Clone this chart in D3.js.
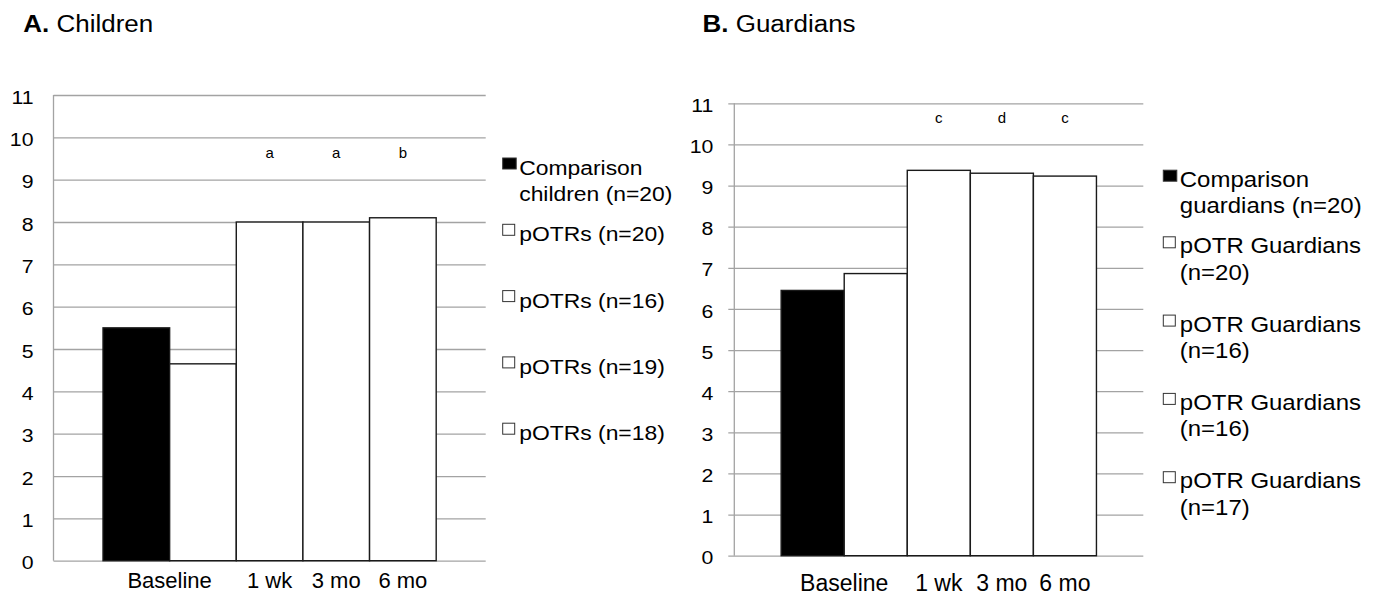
<!DOCTYPE html>
<html>
<head>
<meta charset="utf-8">
<script src="https://cdn.jsdelivr.net/npm/d3@7"></script>
<style>
  html, body { margin: 0; padding: 0; background: #fff; }
  svg { display: block; }
  text { font-family: "Liberation Sans", Arial, Helvetica, sans-serif; fill: #000; }
</style>
</head>
<body>
<svg id="chart" width="1373" height="599"></svg>
<script>
// ---- data ----
var timeLabels = ["Baseline", "1 wk", "3 mo", "6 mo"];
var barGroup = [0, 0, 1, 2, 3];           // which time label each bar sits under
var yTicks = d3.range(0, 12);

var childSeries = ["Comparison\nchildren (n=20)", "pOTRs (n=20)", "pOTRs (n=16)", "pOTRs (n=19)", "pOTRs (n=18)"];
var childValues = [5.5, 4.65, 8.0, 8.0, 8.1];
var childLetters = ["", "", "a", "a", "b"];

var guardSeries = ["Comparison\nguardians (n=20)", "pOTR Guardians\n(n=20)", "pOTR Guardians\n(n=16)", "pOTR Guardians\n(n=16)", "pOTR Guardians\n(n=17)"];
var guardValues = [6.45, 6.86, 9.37, 9.30, 9.23];
var guardLetters = ["", "", "c", "d", "c"];

var fills = ["#000", "#fff", "#fff", "#fff", "#fff"];

var svg = d3.select("#chart");

function panel(o) {
  var g = svg.append("g");
  var x = d3.scaleBand().domain(d3.range(o.values.length))
    .range([o.x0, o.x1]).paddingInner(0).paddingOuter(0.743);
  var y = d3.scaleLinear().domain([0, 11]).range([o.y0, o.y1]);

  // title
  var t = g.append("text")
    .attr("transform", "translate(" + o.tx + ",31.7) scale(1.13,1)")
    .style("font-size", "23px");
  t.append("tspan").style("font-weight", "bold").text(o.tag);
  t.append("tspan").text(" " + o.title);

  // gridlines + tick labels
  var ax = g.append("g").attr("transform", "translate(" + o.x0 + ",0)")
    .call(d3.axisLeft(y).tickValues(yTicks).tickFormat(d3.format("d"))
      .tickSize(-(o.x1 - o.x0)));
  ax.select(".domain").remove();
  ax.selectAll(".tick line")
    .attr("x1", -o.tickOut).attr("x2", o.x1 - o.x0)
    .attr("stroke", "#a3a3a3").attr("stroke-width", 1.3);
  ax.selectAll(".tick text")
    .attr("x", null)
    .attr("transform", "translate(" + (-o.labPad) + ",2) scale(1.12,1)")
    .style("font-size", "19px").style("font-family", "'Liberation Sans', Arial, sans-serif")
    .attr("fill", "#000");

  // bars
  g.selectAll("rect.bar").data(o.values).enter().append("rect")
    .attr("class", "bar")
    .attr("x", function (d, i) { return x(i); })
    .attr("width", x.bandwidth())
    .attr("y", function (d) { return y(d); })
    .attr("height", function (d) { return y(0) - y(d); })
    .attr("fill", function (d, i) { return fills[i]; })
    .attr("stroke", "#1a1a1a").attr("stroke-width", 1.4);

  // vertical axis line
  g.append("line")
    .attr("x1", o.x0).attr("x2", o.x0).attr("y1", y(0)).attr("y2", y(11))
    .attr("stroke", "#a3a3a3").attr("stroke-width", 1.3);

  // significance letters
  g.selectAll("text.sig").data(o.letters).enter().append("text")
    .attr("class", "sig")
    .attr("x", function (d, i) { return x(i) + x.bandwidth() / 2; })
    .attr("y", y(o.letterLevel))
    .attr("text-anchor", "middle")
    .style("font-size", "15px")
    .text(function (d) { return d; });

  // time labels
  timeLabels.forEach(function (lab, k) {
    var idx = d3.range(o.values.length).filter(function (i) { return barGroup[i] === k; });
    var cx = (x(idx[0]) + x(idx[idx.length - 1]) + x.bandwidth()) / 2;
    g.append("text")
      .attr("x", cx).attr("y", y(0) + o.xlabOff)
      .attr("text-anchor", "middle")
      .style("font-size", o.xlabSize + "px")
      .text(lab);
  });

  // legend
  o.series.forEach(function (name, i) {
    var by = o.legY + i * o.legStep + (i > 0 ? o.legShift : 0);
    g.append("rect")
      .attr("x", o.legX).attr("y", by - o.sqOff - 11)
      .attr("width", i === 0 ? 13.5 : 12).attr("height", 11)
      .attr("fill", fills[i]).attr("stroke", "#333").attr("stroke-width", 1);
    name.split("\n").forEach(function (line, j) {
      g.append("text")
        .attr("transform", "translate(" + (o.legX + 16.5) + "," + (by + j * o.lineH) + ") scale(1.09,1)")
        .style("font-size", o.legSize + "px")
        .text(line);
    });
  });
}

panel({
  tag: "A.", title: "Children", tx: 23.3,
  values: childValues, letters: childLetters, series: childSeries,
  x0: 53.5, x1: 485.7, y0: 560.7, y1: 95,
  tickOut: 0, labPad: 20, letterLevel: 9.51,
  xlabOff: 27.5, xlabSize: 22,
  legX: 502.7, legY: 175, legStep: 66.3, legShift: 0, lineH: 26, sqOff: 6, legSize: 21
});

panel({
  tag: "B.", title: "Guardians", tx: 702.5,
  values: guardValues, letters: guardLetters, series: guardSeries,
  x0: 734.3, x1: 1143.3, y0: 555.7, y1: 103.3,
  tickOut: 6, labPad: 21, letterLevel: 10.53,
  xlabOff: 35, xlabSize: 23,
  legX: 1163.3, legY: 186.7, legStep: 78.3, legShift: -11.7, lineH: 26.5, sqOff: 5.5, legSize: 22
});
</script>
</body>
</html>
